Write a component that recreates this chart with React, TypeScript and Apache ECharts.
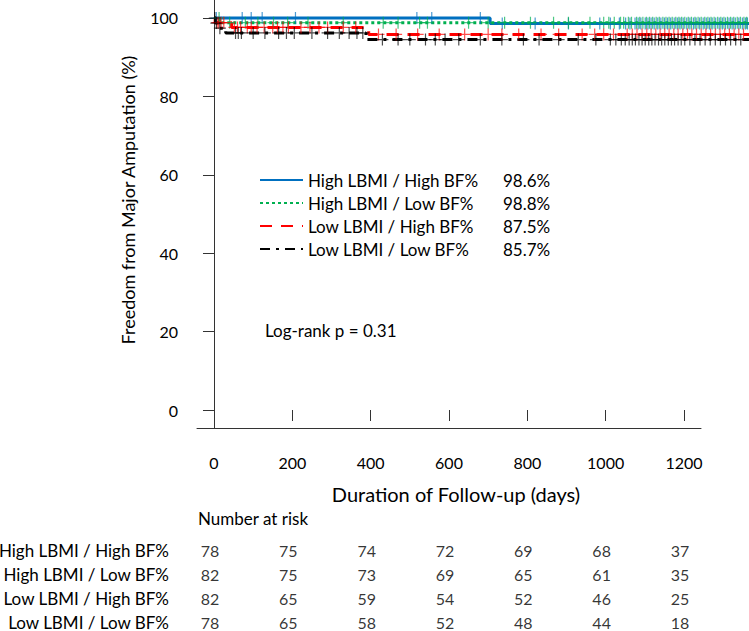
import React, { useEffect, useRef } from "react";
import * as echarts from "echarts";

// ---------- data ----------
const groupNames = [
  "High LBMI / High BF%",
  "High LBMI / Low BF%",
  "Low LBMI / High BF%",
  "Low LBMI / Low BF%",
];
const legendPercents = ["98.6%", "98.8%", "87.5%", "85.7%"];
const groupColors = ["#0070C0", "#00B050", "#FF0000", "#000000"];

const followUpEnd = 1366;

// event days and survival (%) after each event
const hhEventDays = [705];
const hhEventSurv = [98.6];
const hlEventDays = [14];
const hlEventSurv = [98.8];
const lhEventDays = [3, 45, 395];
const lhEventSurv = [98.8, 97.6, 95.8];
const llEventDays = [4, 12, 30, 388];
const llEventSurv = [98.7, 97.4, 96.2, 94.5];

// censoring days
const hhCensor = [6, 72, 95, 123, 208, 518, 556, 680, 736, 820, 905, 985, 1012, 1035, 1051, 1062, 1075, 1083, 1090, 1101, 1108, 1116, 1124, 1133, 1141, 1150, 1158, 1166, 1175, 1183, 1190, 1198, 1207, 1215, 1224, 1231, 1240, 1249, 1257, 1265, 1272, 1281, 1290, 1298, 1306, 1315, 1323, 1331, 1340, 1349, 1357, 1362];
const hlCensor = [13, 40, 80, 112, 152, 188, 240, 330, 432, 470, 525, 545, 650, 700, 742, 808, 867, 905, 960, 995, 1008, 1022, 1038, 1046, 1058, 1066, 1079, 1087, 1095, 1104, 1112, 1120, 1129, 1137, 1146, 1154, 1162, 1170, 1179, 1187, 1194, 1202, 1211, 1219, 1228, 1236, 1244, 1253, 1261, 1269, 1277, 1286, 1294, 1302, 1311, 1319, 1327, 1336, 1344, 1353, 1360];
const lhCensor = [8, 12, 18, 25, 52, 60, 68, 85, 95, 110, 128, 150, 162, 176, 190, 222, 245, 268, 290, 330, 362, 420, 465, 520, 575, 640, 700, 735, 778, 835, 880, 940, 972, 995, 1020, 1055, 1068, 1080, 1093, 1105, 1116, 1128, 1139, 1151, 1162, 1174, 1185, 1197, 1209, 1220, 1232, 1244, 1256, 1268, 1280, 1292, 1304, 1316, 1328, 1340, 1352];
const llCensor = [2, 6, 15, 55, 62, 70, 100, 130, 165, 185, 205, 250, 290, 320, 345, 365, 380, 430, 470, 500, 540, 565, 590, 625, 680, 735, 790, 830, 880, 930, 975, 1012, 1026, 1040, 1050, 1060, 1068, 1076, 1085, 1093, 1101, 1110, 1118, 1126, 1135, 1143, 1151, 1160, 1168, 1176, 1185, 1193, 1202, 1215, 1228, 1241, 1254, 1267, 1280, 1293, 1306, 1319, 1332, 1345];

// number at risk
const riskDays = [0, 200, 400, 600, 800, 1000, 1200];
const riskHH = [78, 75, 74, 72, 69, 68, 37];
const riskHL = [82, 75, 73, 69, 65, 61, 35];
const riskLH = [82, 65, 59, 54, 52, 46, 25];
const riskLL = [78, 65, 58, 52, 48, 44, 18];

const xTicks = [0, 200, 400, 600, 800, 1000, 1200];
const yTicks = [0, 20, 40, 60, 80, 100];

// ---------- helpers ----------
const FONT = "Lato, 'Noto Sans', sans-serif";
const X_MIN = -43.4;
const X_MAX = 1366;
const Y_MIN = -4.59;
const Y_MAX = 104.59;
const AXIS_COLOR = "#333";

function stepData(days: number[], surv: number[]) {
  const pts: number[][] = [[0, 100]];
  days.forEach((d, i) => pts.push([d, surv[i]]));
  pts.push([followUpEnd, surv[surv.length - 1]]);
  return pts;
}
function survAt(days: number[], surv: number[], t: number) {
  let v = 100;
  for (let i = 0; i < days.length; i++) if (days[i] <= t) v = surv[i];
  return v;
}

const groups = [
  { days: hhEventDays, surv: hhEventSurv, censor: hhCensor, risk: riskHH, dash: "solid" as any },
  { days: hlEventDays, surv: hlEventSurv, censor: hlCensor, risk: riskHL, dash: [3, 3] as any },
  { days: lhEventDays, surv: lhEventSurv, censor: lhCensor, risk: riskLH, dash: [12, 9] as any },
  { days: llEventDays, surv: llEventSurv, censor: llCensor, risk: riskLL, dash: [10, 6, 3, 6] as any },
];

const PLUS = "path://M9,0H11V9H20V11H11V20H9V11H0V9H9Z";

export default function App() {
  const ref = useRef<HTMLDivElement>(null);
  useEffect(() => {
    if (!ref.current) return;
    const chart = echarts.init(ref.current, undefined, { renderer: "svg" });

    const lineSeries = groups.map((g, i) => ({
      type: "line",
      name: groupNames[i],
      xAxisIndex: 0,
      yAxisIndex: 0,
      step: "end",
      symbol: "none",
      showSymbol: false,
      clip: true,
      silent: true,
      data: stepData(g.days, g.surv),
      itemStyle: { color: groupColors[i] },
      lineStyle: { color: groupColors[i], width: 3, type: g.dash },
      z: 2,
    }));

    const censorSeries = groups.map((g, i) => ({
      type: "scatter",
      name: "censor-" + i,
      xAxisIndex: 0,
      yAxisIndex: 0,
      silent: true,
      symbol: PLUS,
      symbolSize: 12,
      clip: true,
      data: g.censor.map((t) => [t, survAt(g.days, g.surv, t)]),
      itemStyle: { color: groupColors[i], opacity: 0.7 },
      z: 3,
    }));

    const tableSeries = groups.map((g, i) => ({
      type: "scatter",
      name: "risk-" + i,
      xAxisIndex: 2,
      yAxisIndex: 2,
      silent: true,
      symbolSize: 1,
      itemStyle: { color: "transparent" },
      data: riskDays.map((d, k) => [d, i, g.risk[k]]),
      label: {
        show: true,
        position: "inside",
        formatter: "{@[2]}",
        fontSize: 16,
        fontFamily: FONT,
        color: "#000",
        offset: [-4, 0],
      },
    }));

    chart.setOption({
      animation: false,
      backgroundColor: "#fff",
      textStyle: { fontFamily: FONT, color: "#000" },
      grid: [
        { left: 197, top: 0, right: 0, height: 428, containLabel: false, outerBoundsMode: "none" },
        { left: 197, top: 0, width: 504, height: 428, containLabel: false, outerBoundsMode: "none" },
        { left: 197, top: 538, right: 0, height: 96, containLabel: false, outerBoundsMode: "none" },
      ],
      xAxis: [
        {
          gridIndex: 0,
          type: "value",
          min: X_MIN,
          max: X_MAX,
          offset: 3,
          axisLine: { show: false },
          axisTick: { show: true, length: 11, customValues: xTicks, lineStyle: { color: AXIS_COLOR } },
          axisLabel: {
            customValues: xTicks,
            fontSize: 16,
            margin: 23,
            color: "#000",
            fontFamily: FONT,
            formatter: (v: number) => String(v),
          },
          splitLine: { show: false },
        },
        {
          gridIndex: 1,
          type: "value",
          min: 0,
          max: 1,
          axisLine: { show: true, lineStyle: { color: AXIS_COLOR, width: 1 } },
          axisTick: { show: false },
          axisLabel: { show: false },
          splitLine: { show: false },
          name: "Duration of Follow-up (days)",
          nameLocation: "middle",
          nameGap: 56,
          nameTextStyle: { fontSize: 20, color: "#000", fontFamily: FONT, padding: [0, 0, 0, 14] },
        },
        { gridIndex: 2, type: "value", min: X_MIN, max: X_MAX, show: false },
      ],
      yAxis: [
        {
          gridIndex: 0,
          type: "value",
          min: Y_MIN,
          max: Y_MAX,
          axisLine: { show: true, lineStyle: { color: AXIS_COLOR, width: 1 } },
          axisTick: { show: true, length: 11, customValues: yTicks, lineStyle: { color: AXIS_COLOR } },
          axisLabel: { customValues: yTicks, fontSize: 16, margin: 19, color: "#000", fontFamily: FONT },
          splitLine: { show: false },
          name: "Freedom from Major Amputation (%)",
          nameLocation: "middle",
          nameGap: 60,
          nameTextStyle: { fontSize: 18, color: "#000", fontFamily: FONT, padding: [0, 0, 0, 28] },
        },
        { gridIndex: 1, type: "value", show: false },
        {
          gridIndex: 2,
          type: "category",
          data: groupNames,
          inverse: true,
          axisLine: { show: false },
          axisTick: { show: false },
          axisLabel: { fontSize: 17, margin: 28, color: "#000", fontFamily: FONT },
        },
      ],
      legend: {
        data: groupNames,
        orient: "vertical",
        left: 254,
        top: 165,
        itemWidth: 43,
        itemHeight: 14,
        itemGap: 3,
        selectedMode: false,
        itemStyle: { opacity: 0 },
        formatter: (name: string) => `{n|${name}}{p|${legendPercents[groupNames.indexOf(name)]}}`,
        textStyle: {
          fontSize: 17,
          color: "#000",
          fontFamily: FONT,
          lineHeight: 20,
          rich: {
            n: { width: 195, fontSize: 17, color: "#000", fontFamily: FONT },
            p: { fontSize: 17, color: "#000", fontFamily: FONT },
          },
        },
      },
      graphic: [
        {
          type: "text",
          left: 265,
          top: 322,
          style: { text: "Log-rank p = 0.31", fontSize: 17, fill: "#000", fontFamily: FONT },
        },
        {
          type: "text",
          left: 198,
          top: 510,
          style: { text: "Number at risk", fontSize: 17, fill: "#000", fontFamily: FONT },
        },
      ],
      series: [...lineSeries, ...censorSeries, ...tableSeries],
    });
    return () => chart.dispose();
  }, []);
  return (
    <div
      ref={ref}
      style={{ position: "fixed", left: 0, top: 0, width: 749, height: 631, background: "#fff" }}
    />
  );
}
